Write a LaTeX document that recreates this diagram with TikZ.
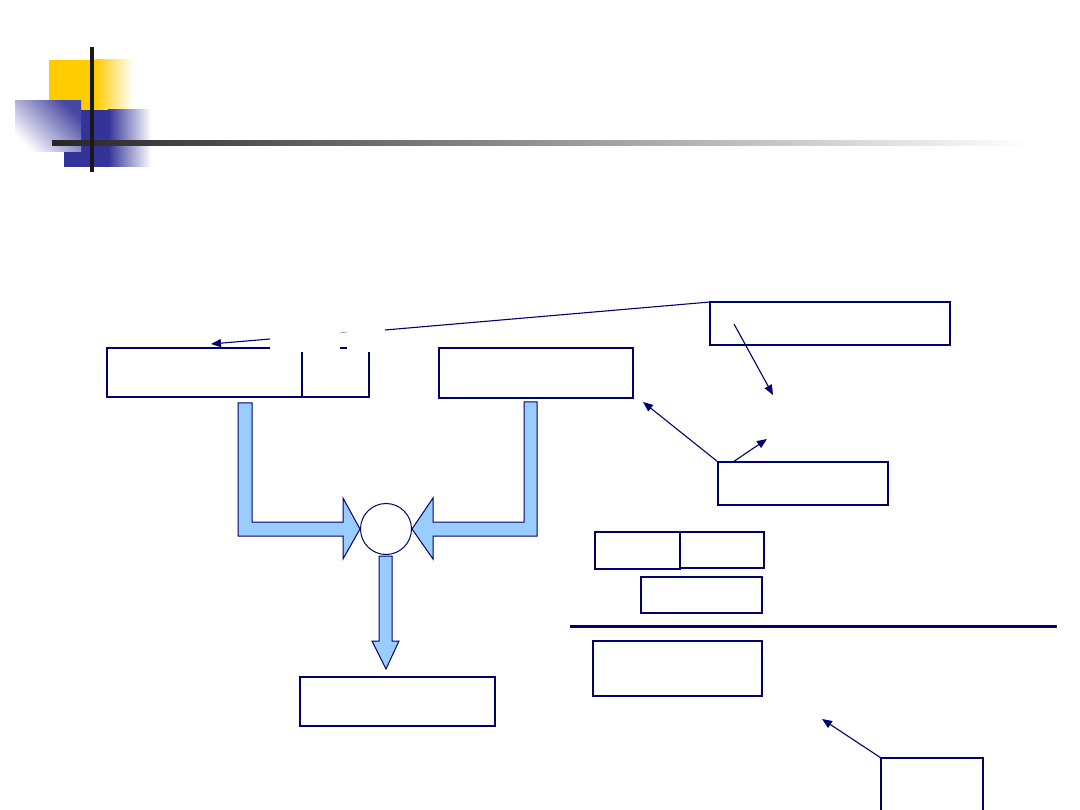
\documentclass[tikz,border=0pt]{standalone}
\usetikzlibrary{arrows.meta,calc}
\definecolor{navy}{RGB}{0,0,110}
\definecolor{gold}{RGB}{255,204,0}
\definecolor{dblue}{RGB}{51,51,153}
\definecolor{lblue}{RGB}{153,204,255}
\tikzset{
  box/.style={draw=navy, line width=1.3pt, inner sep=0pt, outer sep=0pt, anchor=north west, fill=white},
  conn/.style={draw=navy, line width=1.1pt, -{Triangle[length=10pt,width=8pt]}},
  plain/.style={draw=navy, line width=1.1pt},
  blockarrow/.style={draw=navy, line width=1pt, fill=lblue, line join=miter}
}
\begin{document}
\begin{tikzpicture}[x=1pt,y=-1pt]
\useasboundingbox (0,0) rectangle (1080,810);
\clip (0,0) rectangle (1080,810);
% logo
\fill[gold] (49,60) rectangle (96,110);
\shade[left color=gold, right color=white] (95,60) rectangle (133,110);
\fill[dblue] (64,110) rectangle (109,167);
\shade[left color=dblue, right color=white] (108,110) rectangle (151,167);
\shade[shading=axis, top color=dblue!90, bottom color=white, shading angle=-45] (15,101) rectangle (81,152);
\shade[left color=black!85, right color=white] (52,140.5) rectangle (1030,145.5);
\fill[black!90] (90,47) rectangle (94,172);
% left split box
\draw[navy, line width=1.3pt] (270,348) -| (107,397) -| (369,352);
\draw[navy, line width=1.5pt] (302,352) -- (302,397);
\draw[navy!50, line width=0.6pt] (340,333) -- (347,332);
\draw[navy, line width=1.3pt] (340,348) -- (347,348);
\coordinate (a1) at (270,339);
\coordinate (a2) at (211,344);
\draw[conn] (a1) -- (a2);
% boxes
\node[box, minimum width=194pt, minimum height=50pt] (B) at (439,348) {};
\node[box, minimum width=240pt, minimum height=43pt] (C) at (710,302) {};
\node[box, minimum width=170pt, minimum height=43pt] (D) at (718,462) {};
\node[box, minimum width=85pt, minimum height=37pt] (E1) at (595,532) {};
\node[box, minimum width=84pt, minimum height=36pt] (E2) at (680,532) {};
\node[box, minimum width=121pt, minimum height=36pt] (F) at (641,577) {};
\draw[navy, line width=2pt] (F.north west) -- (F.north east);
\node[box, minimum width=169pt, minimum height=55pt] (G) at (593,641) {};
\node[box, minimum width=102pt, minimum height=70pt] (H) at (881,758) {};
\node[box, minimum width=195pt, minimum height=49pt] (I) at (300,677) {};
\draw[navy, line width=1.8pt] (E1.north east) -- (E1.south east);
% divider
\draw[navy, line width=3pt] (570,626) -- (1057,626);
% connectors
\coordinate (l1) at (385,330);
\draw[plain] (l1) -- (C.north west);
\coordinate (c1) at (734,324);
\coordinate (c2) at (773,395);
\draw[conn] (c1) -- (c2);
\coordinate (b1) at (643,402);
\draw[conn] (D.north west) -- (b1);
\coordinate (d1) at (733,462);
\coordinate (d2) at (767,439);
\draw[conn] (d1) -- (d2);
\coordinate (g1) at (822,719);
\draw[conn] (H.north west) -- (g1);
% circle and block arrows
\node[draw=navy, line width=1pt, circle, minimum size=51pt, inner sep=0pt, fill=white] (O) at (386,529) {};
\draw[blockarrow] (238,403) -- (252,403) -- (252,522) -- (343,522) -- (343,498) -- (O.west) -- (343,559) -- (343,536) -- (238,536) -- cycle;
\draw[blockarrow] (524,402) -- (537,402) -- (537,536) -- (433,536) -- (433,559) -- (O.east) -- (433,498) -- (433,522) -- (524,522) -- cycle;
\draw[blockarrow] (379,556) -- (392,556) -- (392,641) -- (399,641) -- (386,669) -- (372,641) -- (379,641) -- cycle;
\end{tikzpicture}
\end{document}
